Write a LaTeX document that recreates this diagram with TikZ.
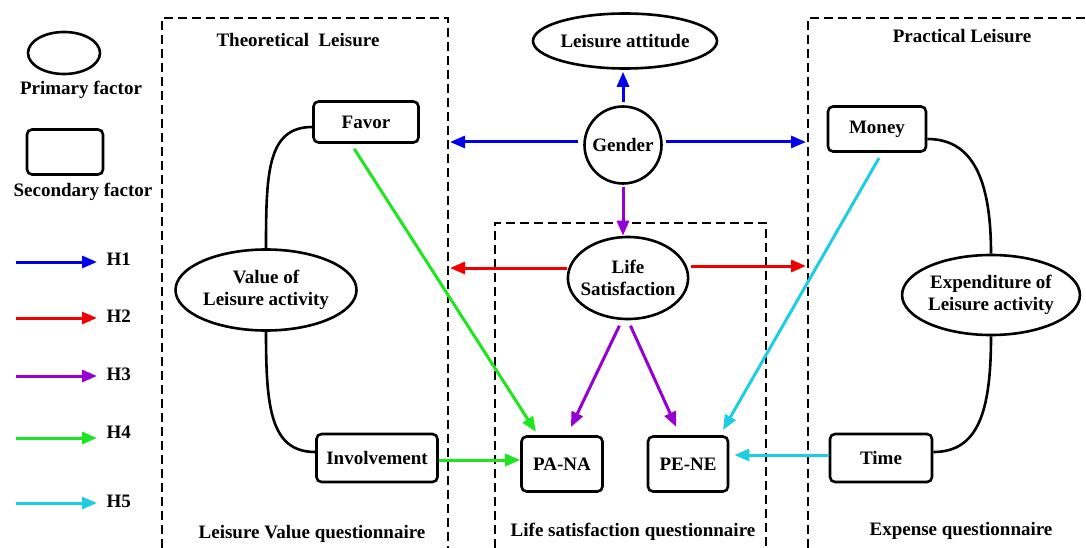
\documentclass[tikz,border=0pt]{standalone}
\usepackage{fontspec}
\setmainfont{Liberation Serif}
\usetikzlibrary{arrows.meta,shapes.geometric}

\definecolor{hone}{RGB}{0,0,235}
\definecolor{htwo}{RGB}{240,0,0}
\definecolor{hthree}{RGB}{150,0,210}
\definecolor{hfour}{RGB}{30,230,30}
\definecolor{hfive}{RGB}{30,205,225}

\begin{document}
\begin{tikzpicture}[x=1pt, y=-1pt,
    every node/.style={font=\bfseries\fontsize{19}{22}\selectfont},
    factor/.style={draw, ellipse, line width=2.6pt, inner sep=0pt, align=center},
    subfactor/.style={draw, rectangle, rounded corners=5pt, line width=2.6pt, inner sep=0pt},
    group/.style={line width=2.4pt, dash pattern=on 9pt off 5pt},
    link/.style={line width=2.6pt},
    hyp/.style={line width=3pt, -{Triangle[length=15pt, width=12pt]}}]
    \useasboundingbox (0,0) rectangle (1086,548);

    % Legend: shapes
    \node[factor, minimum width=72, minimum height=42] (keyell) at (64,53) {};
    \node (keyelltxt) at (81,90) {Primary factor};
    \node[subfactor, minimum width=76, minimum height=45] (keyrect) at (65,152) {};
    \node (keyrecttxt) at (83,192) {Secondary factor};

    % Legend: hypothesis arrows
    \foreach \i/\y/\ly/\c in {1/262/259/hone, 2/318/316/htwo, 3/376/374/hthree, 4/438/432/hfour, 5/503/501/hfive} {
        \coordinate (k\i a) at (16,\y);
        \coordinate (k\i b) at (97,\y);
        \draw[hyp, \c] (k\i a) -- (k\i b);
        \node[anchor=west] (k\i) at (103,\ly) {H\i};
    }

    % Dashed groups (open at the picture edge)
    \draw[group] (162,548) -- (162,18) -- (448,18) -- (448,548);
    \draw[group] (495,548) -- (495,223) -- (766,223) -- (766,548);
    \draw[group] (808,548) -- (808,18) -- (1086,18);

    % Group titles
    \node (tltitle) at (298,40) {Theoretical\ \ Leisure};
    \node (pltitle) at (962,36) {Practical Leisure};
    \node (tlquest) at (312,534) {Leisure Value questionnaire};
    \node (lsquest) at (633,532) {Life satisfaction questionnaire};
    \node (plquest) at (961,531) {Expense questionnaire};

    % Centre column
    \node[factor, minimum width=184, minimum height=55] (attitude) at (625,41) {Leisure attitude};
    \node[draw, circle, line width=2.6pt, minimum size=77, inner sep=0pt] (gender) at (623,145) {Gender};
    \node[factor, inner xsep=-5pt, minimum width=120, minimum height=82] (lifesat) at (628,278) {Life\\Satisfaction};

    % Primary factors
    \node[factor, minimum width=181, minimum height=81] (valueact) at (266,290) {Value of\\Leisure activity};
    \node[factor, minimum width=176, minimum height=80] (expend) at (991,295) {Expenditure of\\Leisure activity};

    % Secondary factors
    \node[subfactor, minimum width=105, minimum height=41] (favor) at (366,122) {Favor};
    \node[subfactor, minimum width=98, minimum height=45] (money) at (877,129) {Money};
    \node[subfactor, minimum width=121, minimum height=48] (involve) at (377,458) {Involvement};
    \node[subfactor, minimum width=102, minimum height=48] (time) at (881,458) {Time};
    \node[subfactor, minimum width=81, minimum height=55] (pana) at (562,464) {PA-NA};
    \node[subfactor, minimum width=80, minimum height=55] (pene) at (688,464) {PE-NE};

    % Black links between primary and secondary factors
    \draw[link] ([yshift=-5pt]favor.west) .. controls +(-45,0) and +(0,-75) .. (valueact.north);
    \draw[link] (valueact.south) .. controls +(0,75) and +(-45,0) .. ([yshift=6pt]involve.west);
    \draw[link] ([yshift=-10pt]money.east) .. controls +(45,0) and +(0,-75) .. (expend.north);
    \draw[link] (expend.south) .. controls +(0,75) and +(45,0) .. ([yshift=6pt]time.east);

    % Edge points on the dashed groups
    \coordinate (tlblue) at (450,142);
    \coordinate (plblue) at (806,142);
    \coordinate (tlred) at (450,268);
    \coordinate (plred) at (806,266);

    % H1
    \draw[hyp, hone, shorten <=3pt, shorten >=2pt] (gender.north) -- (gender.north |- attitude.south);
    \draw[hyp, hone, shorten <=5pt] (gender.west |- tlblue) -- (tlblue);
    \draw[hyp, hone, shorten <=3pt] (gender.east |- plblue) -- (plblue);
    % H2
    \draw[hyp, htwo] (lifesat.west |- tlred) -- (tlred);
    \draw[hyp, htwo, shorten <=2pt] (lifesat.east |- plred) -- (plred);
    % H3
    \draw[hyp, hthree, shorten <=2pt] (gender.south) -- (gender.south |- lifesat.north);
    \draw[hyp, hthree, shorten <=6pt, shorten >=9pt] ([xshift=-6pt]lifesat.south) -- ([xshift=5pt]pana.north);
    \draw[hyp, hthree, shorten <=6pt, shorten >=9pt] (lifesat.south) -- ([xshift=-8pt]pene.north);
    % H4
    \draw[hyp, hfour, shorten <=6pt, shorten >=4pt] ([xshift=-15pt]favor.south) -- ([xshift=-24pt]pana.north);
    \draw[hyp, hfour] ([yshift=-2pt]involve.east) -- ([yshift=-2pt]involve.east -| pana.west);
    % H5
    \draw[hyp, hfive, shorten <=6pt, shorten >=6pt] ([xshift=5pt]money.south) -- ([xshift=32pt]pene.north);
    \draw[hyp, hfive, shorten >=5pt] ([yshift=3pt]time.west) -- ([yshift=3pt]time.west -| pene.east);
\end{tikzpicture}
\end{document}
